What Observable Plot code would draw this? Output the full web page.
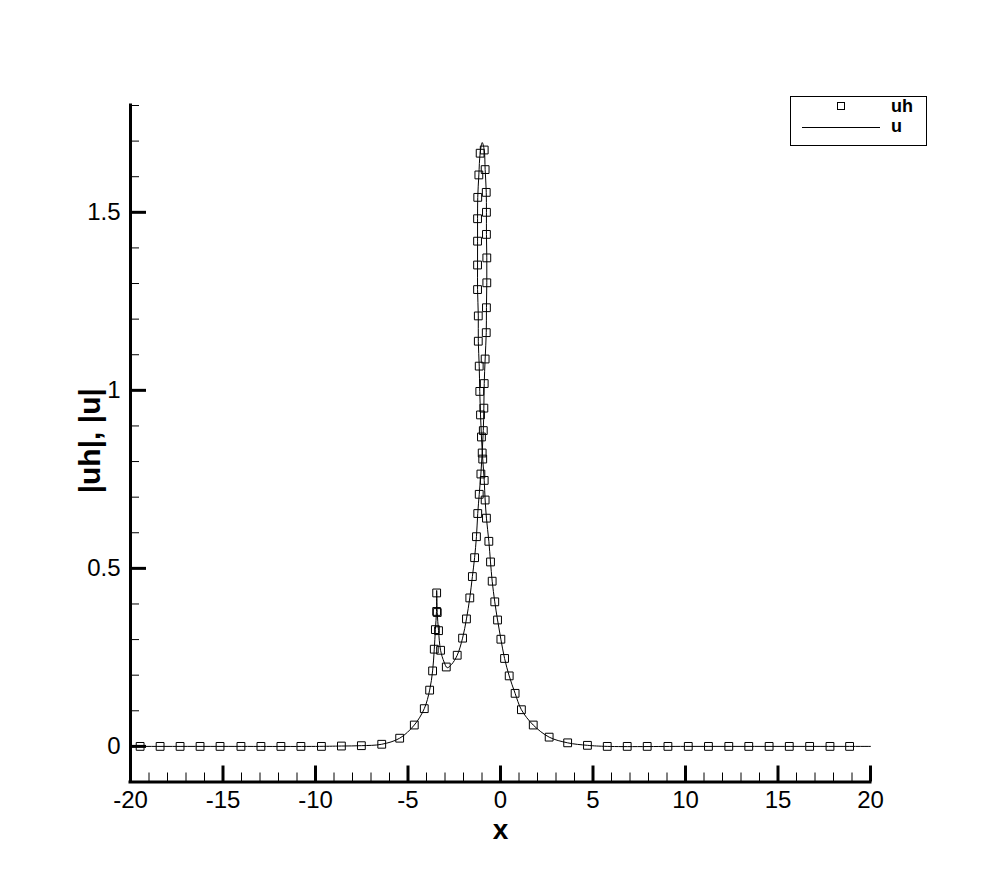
<!DOCTYPE html>
<html>
<head>
<meta charset="utf-8">
<script src="https://cdn.jsdelivr.net/npm/d3@7"></script>
<script src="https://cdn.jsdelivr.net/npm/@observablehq/plot@0.6"></script>
<style>
  html, body { margin: 0; padding: 0; background: #fff; }
  #wrap { position: relative; width: 990px; height: 880px; font-family: "Liberation Sans", Arial, Helvetica, sans-serif; }
  #legend { position: absolute; left: 790px; top: 96px; width: 137px; height: 50px; border: 1px solid #000; background: #fff; box-sizing: border-box; }
  #legend svg { position: absolute; left: -1px; top: -1px; }
</style>
</head>
<body>
<div id="wrap">
  <div id="chart"></div>
  <div id="legend">
    <svg width="137" height="50">
      <rect x="47.5" y="6.5" width="7" height="7" fill="none" stroke="#000" stroke-width="1"></rect>
      <text x="101" y="16" font-family="Liberation Sans, Arial, sans-serif" font-weight="bold" font-size="18">uh</text>
      <line x1="12" x2="90" y1="31.5" y2="31.5" stroke="#000" stroke-width="1"></line>
      <text x="101" y="36" font-family="Liberation Sans, Arial, sans-serif" font-weight="bold" font-size="18">u</text>
    </svg>
  </div>
</div>
<script>
// ---- data ----
// numerical solution markers (uh)
const uhX = [-19.48, -18.40, -17.32, -16.24, -15.16, -14.03, -12.95, -11.87, -10.79, -9.68, -8.60, -7.52, -6.42, -5.45,
  -4.66, -4.12, -3.83, -3.67, -3.58, -3.52, -3.45, -3.45, -3.42, -3.35, -3.24, -2.93,
  -2.34, -2.05, -1.84, -1.66, -1.52, -1.40, -1.30, -1.23, -1.15, -1.06, -0.99, -0.93, -0.90, -0.88, -0.83, -0.77,
  -0.76, -0.74, -0.74, -0.76, -0.76, -0.77, -0.83, -0.88,
  -1.10, -1.17, -1.23, -1.24, -1.24, -1.24, -1.24, -1.20, -1.20, -1.15, -1.12, -1.08, -1.03, -0.96,
  -0.88, -0.83, -0.76, -0.63, -0.54, -0.45, -0.31, -0.16, 0.02, 0.22, 0.47, 0.79, 1.13, 1.77, 2.63, 3.63, 4.70,
  5.77, 6.85, 7.93, 9.05, 10.15, 11.24, 12.34, 13.42, 14.52, 15.61, 16.71, 17.81, 18.87];
const uhY = [0, 0, 0, 0, 0, 0, 0, 0, 0, 0, 0.001, 0.002, 0.006, 0.023,
  0.060, 0.106, 0.158, 0.212, 0.273, 0.328, 0.379, 0.431, 0.376, 0.325, 0.270, 0.223,
  0.256, 0.304, 0.358, 0.417, 0.477, 0.530, 0.589, 0.654, 0.708, 0.765, 0.824, 0.887, 0.950, 1.019, 1.088, 1.162,
  1.232, 1.302, 1.372, 1.438, 1.500, 1.556, 1.620, 1.675,
  1.666, 1.605, 1.542, 1.482, 1.419, 1.352, 1.283, 1.209, 1.138, 1.068, 0.997, 0.931, 0.869, 0.807,
  0.747, 0.692, 0.641, 0.576, 0.518, 0.464, 0.406, 0.355, 0.301, 0.247, 0.198, 0.149, 0.103, 0.060, 0.026, 0.010, 0.003,
  0, 0, 0, 0, 0, 0, 0, 0, 0, 0, 0, 0, 0];

// exact solution curve (u), in drawing order
const uX = [-20, -15, -10, -8.60, -7.52, -6.42, -5.45, -4.66, -4.12, -3.83, -3.67, -3.58, -3.52, -3.46, -3.45,
  -3.42, -3.35, -3.24, -3.05, -2.88, -2.65, -2.34, -2.05, -1.84, -1.66, -1.52, -1.40, -1.30, -1.23, -1.15, -1.06,
  -0.99, -0.93, -0.90, -0.88, -0.83, -0.77, -0.76, -0.74, -0.74, -0.76, -0.76, -0.77, -0.83, -0.88, -0.99,
  -1.10, -1.17, -1.23, -1.24, -1.24, -1.24, -1.24, -1.20, -1.20, -1.15, -1.12, -1.08, -1.03, -0.96,
  -0.88, -0.83, -0.76, -0.63, -0.54, -0.45, -0.31, -0.16, 0.02, 0.22, 0.47, 0.79, 1.13, 1.77, 2.63, 3.63, 4.70,
  5.77, 10, 15, 20];
const uY = [0, 0, 0, 0.001, 0.002, 0.006, 0.023, 0.060, 0.106, 0.158, 0.212, 0.273, 0.328, 0.379, 0.438,
  0.376, 0.325, 0.270, 0.237, 0.221, 0.230, 0.256, 0.304, 0.358, 0.417, 0.477, 0.530, 0.589, 0.654, 0.708, 0.765,
  0.824, 0.887, 0.950, 1.019, 1.088, 1.162, 1.232, 1.302, 1.372, 1.438, 1.500, 1.556, 1.620, 1.675, 1.696,
  1.666, 1.605, 1.542, 1.482, 1.419, 1.352, 1.283, 1.209, 1.138, 1.068, 0.997, 0.931, 0.869, 0.807,
  0.747, 0.692, 0.641, 0.576, 0.518, 0.464, 0.406, 0.355, 0.301, 0.247, 0.198, 0.149, 0.103, 0.060, 0.026, 0.010, 0.003,
  0, 0, 0, 0];

// axis ticks
const xMajor = [-20, -15, -10, -5, 0, 5, 10, 15, 20];
const xMinor = [-19, -18, -17, -16, -14, -13, -12, -11, -9, -8, -7, -6, -4, -3, -2, -1,
  1, 2, 3, 4, 6, 7, 8, 9, 11, 12, 13, 14, 16, 17, 18, 19];
const yMajor = [0, 0.5, 1, 1.5];
const yMinor = [0.1, 0.2, 0.3, 0.4, 0.6, 0.7, 0.8, 0.9, 1.1, 1.2, 1.3, 1.4, 1.6, 1.7, 1.8];
const xLabel = "x";
const yLabel = "|uh|, |u|";

// ---- build ----
const W = 990, H = 880;
const mL = 130, mR = 120, mT = 105, mB = 98.5;
const plotW = W - mL - mR, plotH = H - mT - mB;
const font = "Liberation Sans, Arial, Helvetica, sans-serif";

const markers = uhX.map((x, i) => ({x, y: uhY[i]}));
const curve = uX.map((x, i) => ({x, y: uY[i]}));

const chart = Plot.plot({
  width: W, height: H,
  marginLeft: mL, marginRight: mR, marginTop: mT, marginBottom: mB,
  x: {domain: [-20, 20]},
  y: {domain: [-0.1, 1.8]},
  style: {fontFamily: font, color: "#000", background: "#fff", overflow: "visible"},
  marks: [
    Plot.tickX(xMinor, {x: d => d, insetTop: plotH - 9, strokeWidth: 1, stroke: "#000"}),
    Plot.tickX(xMajor, {x: d => d, insetTop: plotH - 16, strokeWidth: 3, stroke: "#000"}),
    Plot.tickY(yMinor, {y: d => d, insetRight: plotW - 9, strokeWidth: 1, stroke: "#000"}),
    Plot.tickY(yMajor, {y: d => d, insetRight: plotW - 16, strokeWidth: 3, stroke: "#000"}),
    Plot.ruleX([-20], {strokeWidth: 3, stroke: "#000", strokeLinecap: "square"}),
    Plot.ruleY([-0.1], {strokeWidth: 3, stroke: "#000", strokeLinecap: "square"}),
    Plot.axisX(xMajor, {tickSize: 0, tickPadding: 9, fontSize: 24, label: null, tickFormat: d => String(d)}),
    Plot.axisY(yMajor, {tickSize: 0, tickPadding: 10, fontSize: 24, label: null, tickFormat: d => String(d)}),
    Plot.line(curve, {x: "x", y: "y", stroke: "#000", strokeWidth: 1, curve: "catmull-rom"}),
    Plot.dot(markers, {x: "x", y: "y", symbol: "square", r: 4.4, stroke: "#000", strokeWidth: 1, fill: "none"}),
    Plot.text([xLabel], {frameAnchor: "bottom", dy: 48, fontSize: 28, fontWeight: "bold", lineAnchor: "middle", textAnchor: "middle", text: d => d}),
    Plot.text([yLabel], {frameAnchor: "left", dx: -40, dy: -3, rotate: -90, fontSize: 30, fontWeight: "bold", lineAnchor: "middle", textAnchor: "middle", text: d => d})
  ]
});
document.getElementById("chart").appendChild(chart);
</script>
</body>
</html>
